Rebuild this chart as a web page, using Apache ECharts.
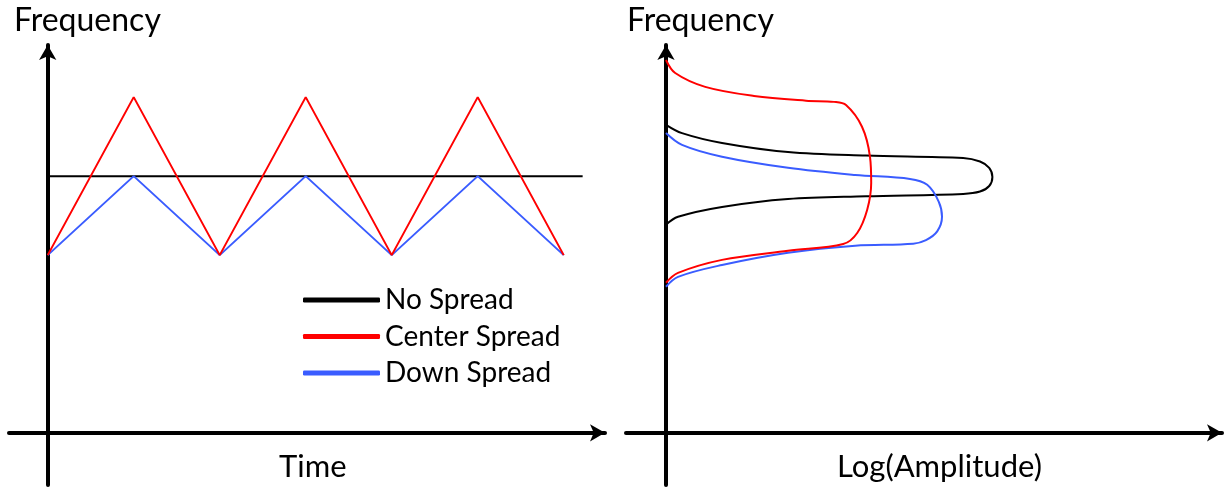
<!DOCTYPE html>
<html>
<head>
<meta charset="utf-8">
<script src="https://cdn.jsdelivr.net/npm/echarts@6/dist/echarts.min.js"></script>
<style>
  html, body { margin: 0; padding: 0; background: #fff; }
  #chart { width: 1224px; height: 487px; }
</style>
</head>
<body>
<div id="chart"></div>
<script>
// left panel: frequency vs time (time in half periods)
const timeNoSpread = [[0, 65], [6.22, 65]]
const timeCenterSpread = [[0, 45], [1, 85], [2, 45], [3, 85], [4, 45], [5, 85], [6, 45]]
const timeDownSpread = [[0, 45], [1, 65], [2, 45], [3, 65], [4, 45], [5, 65], [6, 45]]

// right panel: log(amplitude) vs frequency, traced round each shape
const specNoSpread = [
  [0, 78], [4, 75.9], [14, 73.4], [30.5, 71.1], [50, 70.2], [74.3, 69.6],
  [78.5, 68.7], [80.8, 67.1], [81.6, 64.8], [80.8, 62.5], [78.5, 61.1], [74.3, 60.5],
  [50, 59.9], [30.5, 59.2], [14, 57.2], [3, 54.7], [0, 52.7]
]
const specCenterSpread = [
  [0, 94.4], [2.3, 91.1], [9.8, 87.6], [22, 85.3], [35, 84.1], [42, 83.8],
  [45, 83], [49, 77.5], [51, 69.9], [51.3, 63.3], [50.3, 56.5], [47.8, 50.6],
  [44.3, 47.8], [30.5, 46.1], [14, 43.8], [3, 40.5], [0, 38]
]
const specDownSpread = [
  [0, 75.9], [4, 72.9], [14, 69.9], [30.5, 67.1], [47.3, 65.3], [61, 64.3],
  [65.3, 62.8], [68.2, 58.5], [69, 54.7], [67.8, 51], [65, 48.8], [61.8, 47.9],
  [47.3, 47.4], [30.5, 45.6], [14, 42.5], [3, 39.5], [0, 37]
]

const seriesNames = ['No Spread', 'Center Spread', 'Down Spread']
const seriesColors = ['#000000', '#ff0000', '#3a5cff']

const chart = echarts.init(document.getElementById('chart'))

const font = 'Lato'
const textStyle = { fontFamily: font, fontSize: 31, fontWeight: 'normal', color: '#000' }
const axisLine = {
  onZero: true,
  symbol: ['none', 'arrow'],
  symbolSize: [13, 15],
  lineStyle: { color: '#000', width: 4 }
}

function baseAxis(extra) {
  return Object.assign({
    type: 'value',
    axisLine: axisLine,
    axisTick: { show: false },
    axisLabel: { show: false },
    splitLine: { show: false }
  }, extra)
}

function line(name, idx, data, color) {
  return {
    name: name,
    type: 'line',
    xAxisIndex: idx,
    yAxisIndex: idx,
    data: data,
    showSymbol: false,
    symbol: 'none',
    smooth: idx === 1 ? 0.35 : false,
    lineStyle: { color: color, width: 2 },
    itemStyle: { color: color },
    silent: true
  }
}

chart.setOption({
  animation: false,
  title: [
    { text: 'Frequency', left: 9, top: 0, textStyle: Object.assign({}, textStyle, { fontSize: 32 }) },
    { text: 'Frequency', left: 622, top: 0, textStyle: Object.assign({}, textStyle, { fontSize: 32 }) },
    { text: 'Time', left: 274, top: 446, textStyle: textStyle },
    { text: 'Log(Amplitude)', left: 832, top: 446, textStyle: textStyle }
  ],
  legend: {
    orient: 'vertical',
    left: 298,
    top: 281,
    itemWidth: 77,
    itemHeight: 5,
    itemGap: 8.5,
    icon: 'roundRect',
    textStyle: { fontFamily: font, fontSize: 28, color: '#000' },
    data: seriesNames
  },
  grid: [
    { left: 9, top: 45, width: 596, height: 440, outerBoundsMode: 'none' },
    { left: 626, top: 45, width: 596, height: 440, outerBoundsMode: 'none' }
  ],
  xAxis: [
    baseAxis({ gridIndex: 0, min: -0.45, max: 6.48 }),
    baseAxis({ gridIndex: 1, min: -10, max: 139 })
  ],
  yAxis: [
    baseAxis({ gridIndex: 0, min: -13.2, max: 98.2 }),
    baseAxis({ gridIndex: 1, min: -13.2, max: 98.2 })
  ],
  series: [
    line(seriesNames[0], 0, timeNoSpread, seriesColors[0]),
    line(seriesNames[2], 0, timeDownSpread, seriesColors[2]),
    line(seriesNames[1], 0, timeCenterSpread, seriesColors[1]),
    line(seriesNames[0], 1, specNoSpread, seriesColors[0]),
    line(seriesNames[2], 1, specDownSpread, seriesColors[2]),
    line(seriesNames[1], 1, specCenterSpread, seriesColors[1])
  ]
})
</script>
</body>
</html>
